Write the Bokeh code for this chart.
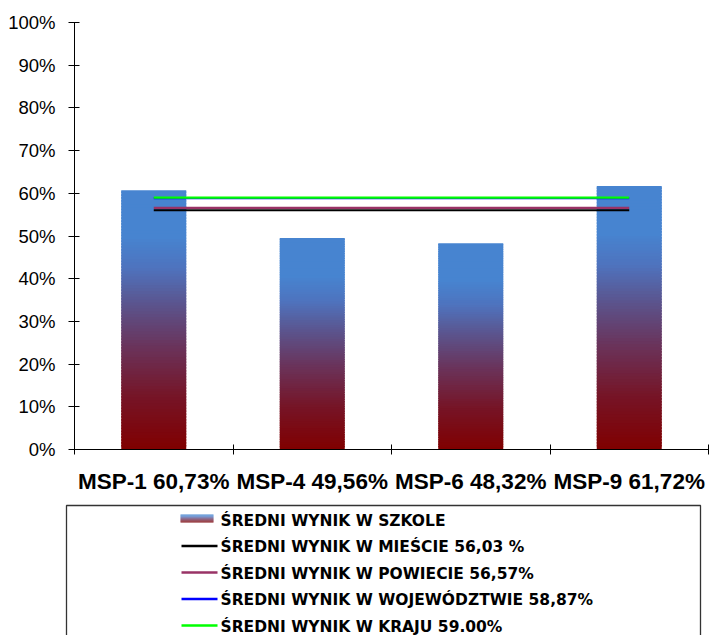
import numpy as np
from bokeh.plotting import figure
from bokeh.layouts import column
from bokeh.models import Range1d, FixedTicker, NumeralTickFormatter, ColumnDataSource
from bokeh.core.properties import value
from bokeh.embed import file_html
from bokeh.resources import INLINE

# ---------------- data ----------------
categories = ["MSP-1", "MSP-4", "MSP-6", "MSP-9"]
school_scores = [60.73, 49.56, 48.32, 61.72]          # percent
bar_label = "ŚREDNI WYNIK W SZKOLE"

ref_labels = [
    "ŚREDNI WYNIK W MIEŚCIE 56,03 %",
    "ŚREDNI WYNIK W POWIECIE 56,57%",
    "ŚREDNI WYNIK W WOJEWÓDZTWIE 58,87%",
    "ŚREDNI WYNIK W KRAJU 59.00%",
]
ref_values = [56.03, 56.57, 58.87, 59.00]              # percent
ref_colors = ["#000000", "#993366", "#0000FF", "#00FF00"]

y_ticks = [0, 10, 20, 30, 40, 50, 60, 70, 80, 90, 100]  # percent

# gradient of the bars (t = 0 bottom, 1 top)
grad_t = [0.0, 0.2, 0.4, 0.55, 0.7, 0.82, 1.0]
grad_rgb = [(128, 0, 0), (118, 20, 38), (106, 52, 92), (92, 82, 138),
            (78, 115, 190), (71, 132, 208), (71, 132, 208)]


def grad_color(t):
    r = np.interp(t, grad_t, [c[0] for c in grad_rgb])
    g = np.interp(t, grad_t, [c[1] for c in grad_rgb])
    b = np.interp(t, grad_t, [c[2] for c in grad_rgb])
    return "#%02x%02x%02x" % (int(round(r)), int(round(g)), int(round(b)))


FONT = "Liberation Sans"
LEG_FONT = "DejaVu Sans"
n_cat = len(categories)
BAR_W = 0.41
N_SEG = 90
W = 709
H_CHART = 500
H_LEG = 135

# ---------------- chart ----------------
p = figure(width=W, height=H_CHART, x_range=Range1d(0, n_cat), y_range=Range1d(0, 1),
           output_backend="svg", toolbar_location=None,
           min_border_left=74, min_border_right=1, min_border_top=22, min_border_bottom=51)
p.frame_align = False
p.xgrid.visible = False
p.ygrid.visible = False
p.outline_line_color = None
p.background_fill_color = "white"
p.border_fill_color = "white"

# gradient bars built from stacked slices
L, R, B, T, C = [], [], [], [], []
for i, v in enumerate(school_scores):
    h = v / 100.0
    for k in range(N_SEG):
        L.append(i + 0.5 - BAR_W / 2)
        R.append(i + 0.5 + BAR_W / 2)
        B.append(h * k / N_SEG)
        T.append(min(h, h * (k + 1.6) / N_SEG))
        C.append(grad_color((k + 0.5) / N_SEG))
bar_src = ColumnDataSource(dict(left=L, right=R, bottom=B, top=T, color=C))
p.quad(left="left", right="right", bottom="bottom", top="top", fill_color="color",
       line_color=None, source=bar_src)

# reference lines from first to last category centre
for j in range(len(ref_values)):
    p.segment(x0=0.5, x1=n_cat - 0.5, y0=ref_values[j] / 100.0, y1=ref_values[j] / 100.0,
              line_color=ref_colors[j], line_width=2.2)

# x axis: labels at centres, ticks at boundaries
centers = [i + 0.5 for i in range(n_cat)]
xa = p.xaxis[0]
xa.ticker = FixedTicker(ticks=centers, minor_ticks=list(range(n_cat + 1)))
xa.major_label_overrides = {c: f"{name} {v:.2f}%".replace(".", ",")
                            for c, name, v in zip(centers, categories, school_scores)}
xa.major_tick_in = 0
xa.major_tick_out = 0
xa.minor_tick_in = 5
xa.minor_tick_out = 5
xa.minor_tick_line_color = "black"
xa.axis_line_color = "black"
xa.major_label_standoff = 14
xa.major_label_text_font = FONT
xa.major_label_text_font_style = "bold"
xa.major_label_text_font_size = "22.5px"
xa.major_label_text_color = "black"

ya = p.yaxis[0]
ya.ticker = FixedTicker(ticks=[t / 100.0 for t in y_ticks])
ya.formatter = NumeralTickFormatter(format="0%")
ya.major_tick_in = 5
ya.major_tick_out = 6
ya.minor_tick_in = 0
ya.minor_tick_out = 0
ya.major_tick_line_color = "black"
ya.axis_line_color = "black"
ya.major_label_standoff = 13
ya.major_label_text_font = FONT
ya.major_label_text_font_size = "18.5px"
ya.major_label_text_color = "black"

# ---------------- legend panel ----------------
q = figure(width=W, height=H_LEG, x_range=Range1d(0, W), y_range=Range1d(H_LEG, 0),
           output_backend="svg", toolbar_location=None,
           x_axis_location=None, y_axis_location=None,
           min_border_left=0, min_border_right=0, min_border_top=0, min_border_bottom=0)
q.frame_align = False
q.grid.visible = False
q.outline_line_color = None
q.background_fill_color = "white"
q.border_fill_color = "white"

q.quad(left=66, right=700, top=5, bottom=H_LEG + 20, fill_color=None,
       line_color="#333333", line_width=1.3)

row_y = [20, 46.5, 73, 99.5, 126]
# gradient swatch
n_sw = 8
gy0 = row_y[0] - 6
q.quad(left=[180] * n_sw, right=[213] * n_sw,
       top=[gy0 + k for k in range(n_sw)], bottom=[gy0 + k + 1.05 for k in range(n_sw)],
       fill_color=[grad_color(1 - (k + 0.5) / n_sw) for k in range(n_sw)], line_color=None)
# line swatches
for j, col in enumerate(ref_colors):
    q.segment(x0=181, x1=217, y0=row_y[j + 1] - 1, y1=row_y[j + 1] - 1,
              line_color=col, line_width=2.5)

q.text(x=[220] * 5, y=row_y, text=[bar_label] + ref_labels,
       text_font=value(LEG_FONT), text_font_style="bold", text_font_size="15.5px",
       text_baseline="middle", text_align="left", text_color="black")

layout = column(p, q, spacing=0)
open("out.html", "w").write(file_html(layout, INLINE))
